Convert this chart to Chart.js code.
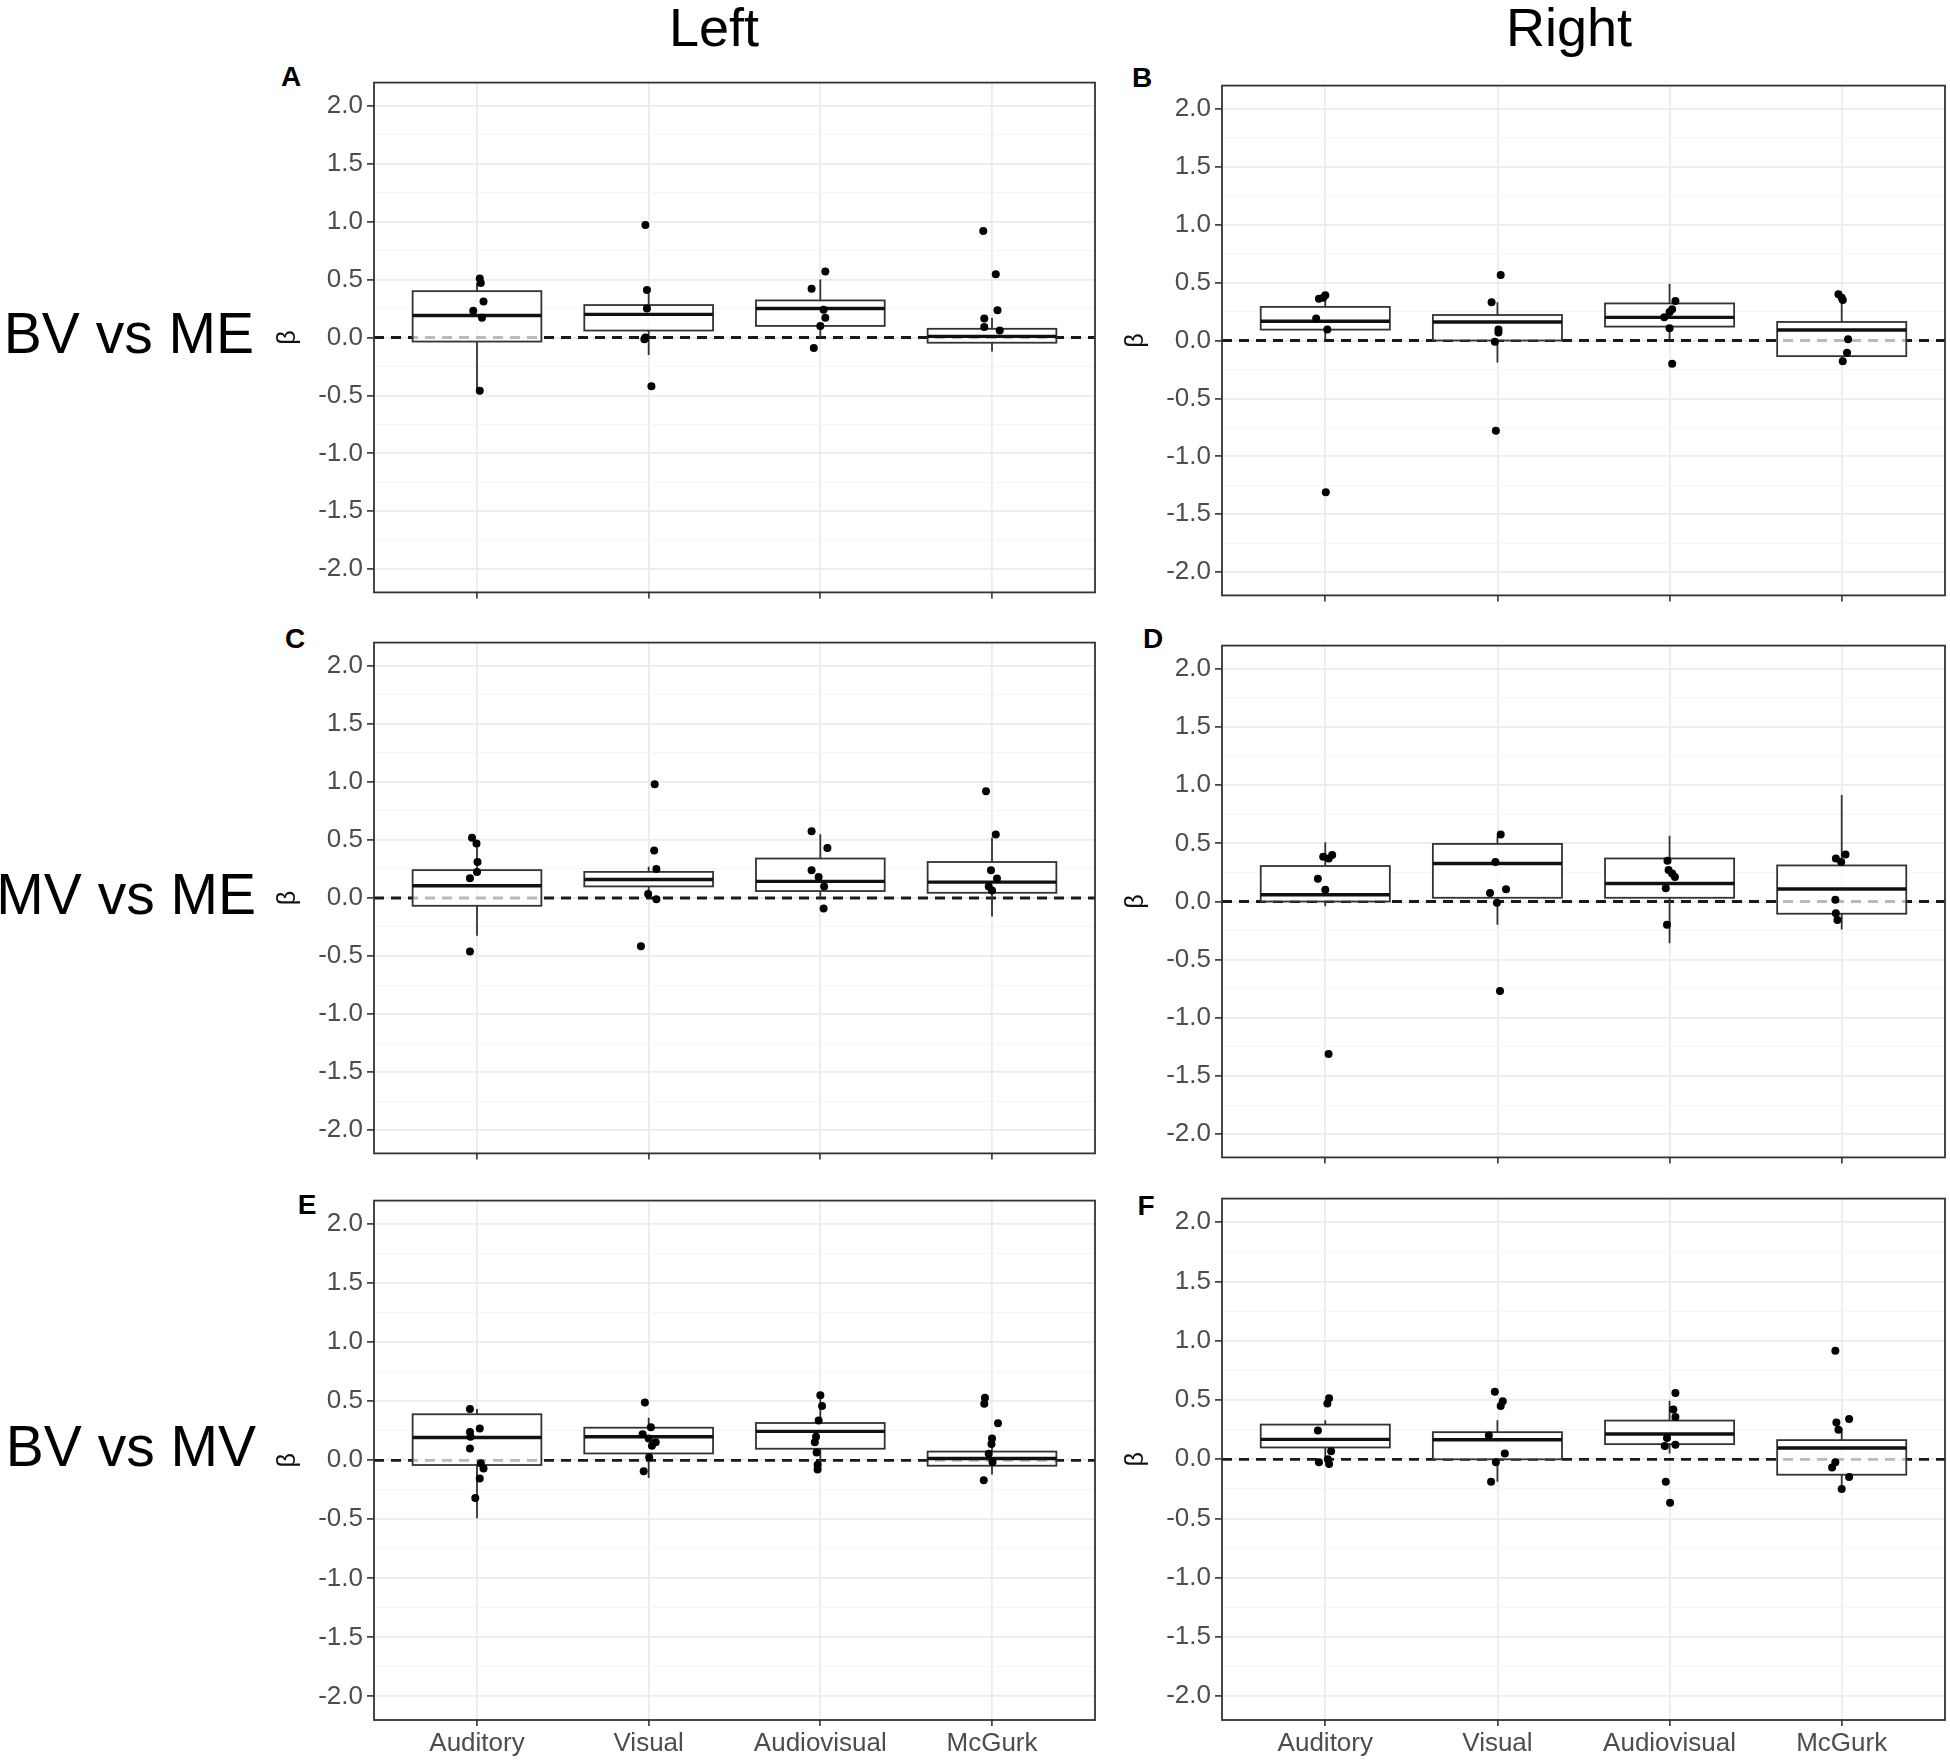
<!DOCTYPE html>
<html>
<head>
<meta charset="utf-8">
<script src="https://cdn.jsdelivr.net/npm/chart.js@4.4.1/dist/chart.umd.min.js"></script>
<style>
  body { margin: 0; background: #fff; width: 1950px; height: 1761px; position: relative; overflow: hidden;
         font-family: "Liberation Sans", Arial, sans-serif; }
  canvas { position: absolute; }
  .lbl { position: absolute; white-space: nowrap; color: #000; line-height: 1; }
  .col { font-size: 54px; transform: translate(-50%, -50%); }
  .row { font-size: 57px; transform: translate(-100%, -50%); }
  .let { font-size: 28px; font-weight: bold; transform: translate(-50%, -50%); }
</style>
</head>
<body>
<div class="lbl col" style="left:714px; top:27px;">Left</div>
<div class="lbl col" style="left:1569px; top:27px;">Right</div>
<div class="lbl row" style="left:254px; top:333px;">BV vs ME</div>
<div class="lbl row" style="left:256px; top:894px;">MV vs ME</div>
<div class="lbl row" style="left:256px; top:1446px;">BV vs MV</div>
<div class="lbl let" style="left:291px; top:77px;">A</div>
<div class="lbl let" style="left:1142px; top:78px;">B</div>
<div class="lbl let" style="left:295px; top:639px;">C</div>
<div class="lbl let" style="left:1153px; top:639px;">D</div>
<div class="lbl let" style="left:307px; top:1205px;">E</div>
<div class="lbl let" style="left:1146px; top:1206px;">F</div>
<script>
var categories = ['Auditory', 'Visual', 'Audiovisual', 'McGurk'];
var yTickValues = [-2, -1.5, -1, -0.5, 0, 0.5, 1, 1.5, 2];
var yTickLabels = ['-2.0', '-1.5', '-1.0', '-0.5', '0.0', '0.5', '1.0', '1.5', '2.0'];
var yMinorValues = [-1.75, -1.25, -0.75, -0.25, 0.25, 0.75, 1.25, 1.75];

// box stats per category: [lower whisker, q1, median, q3, upper whisker]
// points: beta values, jitter: horizontal offset of each point from its category
var boxA = [[-0.46, -0.035, 0.19, 0.40, 0.47], [-0.15, 0.06, 0.20, 0.28, 0.38],
            [0.0, 0.10, 0.25, 0.32, 0.50], [-0.12, -0.045, 0.01, 0.075, 0.17]];
var pointsA = [[0.51, 0.47, 0.31, 0.23, 0.17, -0.46], [0.97, 0.41, 0.25, 0.0, -0.015, -0.42],
               [0.57, 0.42, 0.24, 0.17, 0.10, -0.09], [0.92, 0.545, 0.235, 0.165, 0.09, 0.06]];
var jitterA = [[0.016, 0.022, 0.038, -0.022, 0.029, 0.016], [-0.019, -0.01, -0.01, -0.019, -0.025, 0.016],
               [0.029, -0.051, 0.019, 0.029, 0.0, -0.038], [-0.051, 0.022, 0.032, -0.045, -0.045, 0.045]];

var boxB = [[0.0, 0.094, 0.166, 0.29, 0.34], [-0.19, 0.0, 0.16, 0.22, 0.33],
            [0.01, 0.12, 0.20, 0.32, 0.49], [-0.15, -0.135, 0.09, 0.16, 0.40]];
var pointsB = [[0.39, 0.36, 0.37, 0.19, 0.094, -1.31], [0.565, 0.33, 0.094, 0.07, -0.01, -0.78],
               [0.34, 0.27, 0.245, 0.20, 0.105, -0.20], [0.40, 0.35, 0.37, 0.01, -0.105, -0.18]];
var jitterB = [[0.0, -0.037, -0.012, -0.053, 0.012, 0.003], [0.019, -0.034, 0.006, 0.006, -0.015, -0.009],
               [0.034, 0.015, 0.0, -0.031, 0.0, 0.015], [-0.019, 0.006, 0.0, 0.037, 0.031, 0.006]];

var boxC = [[-0.325, -0.067, 0.105, 0.24, 0.47], [0.0, 0.10, 0.16, 0.225, 0.27],
            [0.0, 0.06, 0.143, 0.34, 0.55], [-0.16, 0.045, 0.137, 0.31, 0.52]];
var pointsC = [[0.52, 0.47, 0.31, 0.225, 0.17, -0.46], [0.98, 0.41, 0.25, 0.035, -0.01, -0.415],
               [0.575, 0.43, 0.24, 0.18, 0.10, -0.09], [0.92, 0.547, 0.24, 0.167, 0.10, 0.065]];
var jitterC = [[-0.029, -0.003, 0.003, 0.0, -0.041, -0.041], [0.035, 0.032, 0.045, -0.003, 0.045, -0.045],
               [-0.051, 0.041, -0.051, -0.01, 0.022, 0.019], [-0.035, 0.022, -0.006, 0.029, -0.019, 0.0]];

var boxD = [[-0.04, 0.0, 0.058, 0.305, 0.51], [-0.2, 0.032, 0.327, 0.495, 0.56],
            [-0.36, 0.032, 0.155, 0.37, 0.565], [-0.24, -0.105, 0.108, 0.31, 0.915]];
var pointsD = [[0.40, 0.385, 0.37, 0.195, 0.10, -1.31], [0.575, 0.34, 0.105, 0.073, -0.01, -0.77],
               [0.35, 0.27, 0.24, 0.21, 0.114, -0.20], [0.405, 0.37, 0.34, 0.015, -0.10, -0.16]];
var jitterD = [[0.04, -0.012, 0.02, -0.043, 0.0, 0.019], [0.019, -0.012, 0.05, -0.043, -0.003, 0.015],
               [-0.012, -0.006, 0.015, 0.031, -0.022, -0.015], [0.022, -0.034, -0.003, -0.037, -0.034, -0.025]];

var boxE = [[-0.49, -0.04, 0.193, 0.39, 0.435], [-0.15, 0.058, 0.20, 0.276, 0.36],
            [-0.08, 0.098, 0.245, 0.316, 0.55], [-0.12, -0.046, 0.015, 0.074, 0.19]];
var pointsE = [[0.435, 0.27, 0.24, 0.20, 0.10, -0.025, -0.07, -0.155, -0.32],
               [0.49, 0.28, 0.22, 0.184, 0.153, 0.123, 0.025, -0.092],
               [0.552, 0.46, 0.337, 0.20, 0.153, 0.067, -0.037, -0.077],
               [0.53, 0.48, 0.313, 0.184, 0.138, 0.055, -0.015, -0.169]];
var jitterE = [[-0.041, 0.016, -0.041, -0.038, -0.041, 0.022, 0.038, 0.016, -0.01],
               [-0.022, 0.013, -0.035, 0.0, 0.041, 0.019, 0.003, -0.029],
               [0.0, 0.01, -0.01, -0.025, -0.032, -0.022, -0.016, -0.016],
               [-0.041, -0.045, 0.035, 0.0, -0.003, -0.019, 0.003, -0.048]];

var boxF = [[0.0, 0.10, 0.168, 0.293, 0.33], [-0.19, 0.0, 0.165, 0.229, 0.33],
            [0.05, 0.128, 0.214, 0.327, 0.495], [-0.25, -0.13, 0.095, 0.162, 0.265]];
var pointsF = [[0.516, 0.47, 0.244, 0.067, 0.0, -0.025, -0.04],
               [0.57, 0.49, 0.45, 0.20, 0.05, -0.025, -0.19],
               [0.56, 0.42, 0.357, 0.18, 0.122, 0.113, -0.19, -0.366],
               [0.915, 0.34, 0.31, 0.25, -0.025, -0.07, -0.15, -0.25]];
var jitterF = [[0.022, 0.012, -0.043, 0.034, 0.015, -0.037, 0.022],
               [-0.015, 0.031, 0.019, -0.05, 0.043, -0.009, -0.037],
               [0.034, 0.022, 0.034, -0.015, 0.034, -0.028, -0.022, 0.003],
               [-0.037, 0.043, -0.031, -0.019, -0.037, -0.056, 0.043, 0.0]];

var FONT = '"Liberation Sans", Arial, sans-serif';
var Y_AXIS_W = 104;
var BOX_HALF = 0.375;

function isMajor(v) {
    return yTickValues.indexOf(v) >= 0;
}

function makePanel(id, left, top, width, height, axisH, showLabels, box, pts, jit) {
    var c = document.createElement('canvas');
    c.id = id;
    var w = Y_AXIS_W + width + 2;
    var h = 2 + height + axisH;
    c.width = w;
    c.height = h;
    c.style.left = (left - Y_AXIS_W) + 'px';
    c.style.top = (top - 2) + 'px';
    c.style.width = w + 'px';
    c.style.height = h + 'px';
    document.body.appendChild(c);

    var data = [];
    pts.forEach(function(group, i) {
        group.forEach(function(v, j) {
            data.push({ x: i + 1 + jit[i][j], y: v });
        });
    });

    var boxPlugin = {
        id: 'boxes',
        beforeDatasetsDraw: function(chart) {
            var ctx = chart.ctx, xs = chart.scales.x, ys = chart.scales.y, a = chart.chartArea;
            ctx.save();
            // zero reference line
            ctx.strokeStyle = '#1a1a1a';
            ctx.lineWidth = 2.8;
            ctx.setLineDash([10, 7]);
            var y0 = ys.getPixelForValue(0);
            ctx.beginPath();
            ctx.moveTo(a.left, y0);
            ctx.lineTo(a.right, y0);
            ctx.stroke();
            ctx.setLineDash([]);

            box.forEach(function(s, i) {
                var cx = xs.getPixelForValue(i + 1);
                var x0 = xs.getPixelForValue(i + 1 - BOX_HALF);
                var x1 = xs.getPixelForValue(i + 1 + BOX_HALF);
                var yLo = ys.getPixelForValue(s[0]), yQ1 = ys.getPixelForValue(s[1]);
                var yMed = ys.getPixelForValue(s[2]), yQ3 = ys.getPixelForValue(s[3]);
                var yHi = ys.getPixelForValue(s[4]);
                ctx.strokeStyle = '#333';
                ctx.lineWidth = 1.8;
                ctx.beginPath();
                ctx.moveTo(cx, yHi); ctx.lineTo(cx, yQ3);
                ctx.moveTo(cx, yQ1); ctx.lineTo(cx, yLo);
                ctx.stroke();
                ctx.fillStyle = 'rgba(255,255,255,0.7)';
                ctx.fillRect(x0, yQ3, x1 - x0, yQ1 - yQ3);
                ctx.strokeRect(x0, yQ3, x1 - x0, yQ1 - yQ3);
                ctx.strokeStyle = '#111';
                ctx.lineWidth = 3.4;
                ctx.beginPath();
                ctx.moveTo(x0, yMed); ctx.lineTo(x1, yMed);
                ctx.stroke();
            });
            ctx.restore();
        },
        afterDatasetsDraw: function(chart) {
            var ctx = chart.ctx, a = chart.chartArea;
            ctx.save();
            ctx.strokeStyle = '#333';
            ctx.lineWidth = 1.8;
            ctx.strokeRect(a.left, a.top, a.right - a.left, a.bottom - a.top);
            ctx.restore();
        }
    };

    new Chart(c, {
        type: 'scatter',
        data: {
            datasets: [{
                data: data,
                pointRadius: 4,
                pointBackgroundColor: '#000',
                pointBorderWidth: 0
            }]
        },
        options: {
            responsive: false,
            animation: false,
            devicePixelRatio: 1,
            layout: { padding: { top: 2, right: 2, left: 0, bottom: 0 } },
            plugins: { legend: { display: false }, tooltip: { enabled: false } },
            scales: {
                x: {
                    type: 'linear',
                    min: 0.4,
                    max: 4.6,
                    afterBuildTicks: function(s) {
                        s.ticks = categories.map(function(c, i) { return { value: i + 1 }; });
                    },
                    afterFit: function(s) { s.height = axisH; },
                    ticks: {
                        autoSkip: false,
                        maxRotation: 0,
                        padding: 2,
                        color: '#4d4d4d',
                        font: { size: 26, family: FONT },
                        callback: function(v) { return showLabels ? categories[v - 1] : ''; }
                    },
                    grid: { color: '#ebebeb', lineWidth: 1.8, tickColor: '#333', tickLength: 6, tickWidth: 1.6 },
                    border: { display: false }
                },
                y: {
                    type: 'linear',
                    min: -2.2,
                    max: 2.2,
                    afterBuildTicks: function(s) {
                        s.ticks = yTickValues.concat(yMinorValues).sort(function(p, q) { return p - q; })
                            .map(function(v) { return { value: v }; });
                    },
                    afterFit: function(s) { s.width = Y_AXIS_W; },
                    ticks: {
                        autoSkip: false,
                        padding: 4,
                        color: '#4d4d4d',
                        font: { size: 26, family: FONT },
                        callback: function(v) {
                            var i = yTickValues.indexOf(v);
                            return i >= 0 ? yTickLabels[i] : '';
                        }
                    },
                    grid: {
                        color: function(ctx) { return isMajor(ctx.tick.value) ? '#ebebeb' : '#f5f5f5'; },
                        lineWidth: function(ctx) { return isMajor(ctx.tick.value) ? 1.8 : 1.1; },
                        tickColor: function(ctx) { return isMajor(ctx.tick.value) ? '#333' : 'rgba(0,0,0,0)'; },
                        tickLength: 7,
                        tickWidth: 1.6
                    },
                    border: { display: false },
                    title: { display: true, text: 'β', color: '#111', font: { size: 25, family: FONT }, padding: { top: 3, bottom: 0 } }
                }
            }
        },
        plugins: [boxPlugin]
    });
}

makePanel('panelA', 374, 65, 723, 539, 8, false, boxA, pointsA, jitterA);
makePanel('panelB', 1222, 68, 725, 539, 8, false, boxB, pointsB, jitterB);
makePanel('panelC', 374, 625, 723, 540, 8, false, boxC, pointsC, jitterC);
makePanel('panelD', 1222, 628, 725, 541, 8, false, boxD, pointsD, jitterD);
makePanel('panelE', 374, 1183, 723, 537, 41, true, boxE, pointsE, jitterE);
makePanel('panelF', 1222, 1181, 725, 539, 41, true, boxF, pointsF, jitterF);
</script>
</body>
</html>
